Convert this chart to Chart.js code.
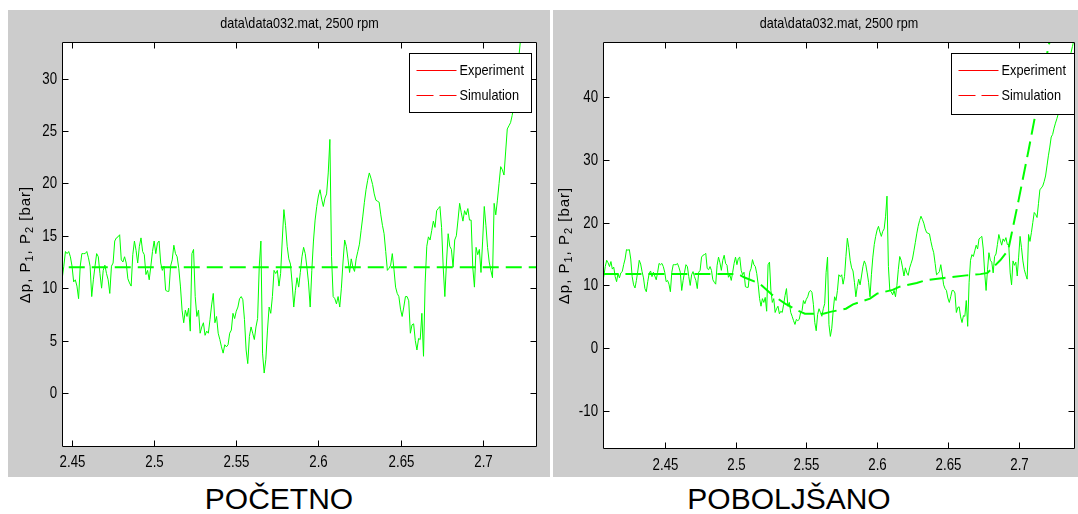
<!DOCTYPE html>
<html>
<head>
<meta charset="utf-8">
<script src="https://cdn.jsdelivr.net/npm/chart.js@4.4.1/dist/chart.umd.min.js"></script>
<style>
  body { margin: 0; background: #fff; width: 1078px; height: 514px; overflow: hidden; position: relative; }
  canvas { position: absolute; }
  #chartLeft { left: 8px; top: 10px; }
  #chartRight { left: 553px; top: 10px; }
  .caption { position: absolute; top: 484px; font-family: 'Liberation Sans', Arial, sans-serif; font-size: 30px; line-height: 30px; text-align: center; color: #000; }
</style>
</head>
<body>
<canvas id="chartLeft" width="542" height="467"></canvas>
<canvas id="chartRight" width="525" height="467"></canvas>
<div class="caption" style="left:8px;width:542px">POČETNO</div>
<div class="caption" style="left:589px;width:400px">POBOLJŠANO</div>
<script>
    const plotTitle = 'data\\data032.mat, 2500 rpm';
    const legendLabels = ['Experiment', 'Simulation'];
    // [text, isSubscript]
    const yLabelParts = [['\u0394p, P', false], ['1', true], [', P', false], ['2', true], [' [bar]', false]];

    const xTickValues = [2.45, 2.5, 2.55, 2.6, 2.65, 2.7];
    const yTicksLeft = [0, 5, 10, 15, 20, 25, 30];
    const yTicksRight = [-10, 0, 10, 20, 30, 40];

    // measured pressure, sampled every 1 ms from 2.406 s
    const expStartTime = 2.406;
    const expSampleStep = 0.001;
    const expPressure = [
        10.3, 11.5, 13.0, 14.0, 13.6, 13.0, 13.8, 12.6, 12.9, 11.4,
        10.6, 11.9, 11.2, 12.0, 12.2, 13.3, 14.2, 15.7, 15.6, 15.7,
        14.2, 11.4, 10.1, 9.6, 10.8, 12.3, 14.0, 13.4, 12.2, 11.2,
        9.5, 9.0, 10.6, 11.9, 12.3, 11.4, 12.1, 11.5,
        10.9, 12.1, 13.5, 13.3, 13.5, 13.0, 12.1, 10.6, 10.8, 10.2,
        9.0, 12.1, 13.3, 13.3, 13.3, 13.5, 12.9, 12.1, 9.2, 10.8,
        12.1, 13.3, 13.0, 11.4, 10.0, 11.7, 12.2, 11.4, 10.8, 9.5,
        12.1, 12.4, 14.5, 14.8, 14.9, 15.1, 12.7, 12.5, 13.0, 12.4,
        10.9, 10.5, 10.2, 13.2, 14.5, 13.6, 12.4, 14.0, 14.8, 13.5,
        13.2, 11.3, 11.7, 10.8, 12.1, 13.5, 14.5, 13.3, 14.3, 14.5,
        12.4, 11.7, 12.1, 9.8, 9.7, 9.7, 12.1, 12.7, 14.1, 13.3,
        13.0, 11.9, 10.2, 7.9, 6.7, 7.9, 7.3, 8.1, 5.9, 13.3,
        13.7, 9.2, 7.3, 7.9, 5.7, 6.3, 6.7, 5.5, 5.9, 5.7,
        7.0, 8.4, 9.5, 6.7, 7.3, 5.7, 5.1, 4.4, 3.8, 4.6,
        4.4, 4.6, 5.7, 6.0, 7.6, 7.1, 7.8, 8.2, 9.0, 9.2,
        8.9, 7.0, 4.1, 2.8, 5.4, 6.3, 5.7, 5.1, 6.3, 7.1,
        12.1, 14.5, 3.8, 1.9, 3.2, 6.0, 8.2, 7.6, 9.2, 11.7,
        11.4, 11.7, 10.2, 11.4, 14.6, 17.5, 16.0, 14.0, 12.8,
        12.3, 10.5, 8.2, 9.8, 11.0, 10.1, 11.5, 13.0, 13.9, 13.3,
        12.0, 10.5, 8.2, 11.7, 14.5, 16.5, 17.8, 18.8, 19.4, 18.5,
        17.8, 18.6, 19.0, 21.0, 24.2, 13.0, 9.2, 9.0, 8.5, 9.2,
        8.2, 10.0, 12.5, 14.6, 14.0, 12.8, 11.5, 12.8, 12.0, 11.6,
        12.8, 13.5, 14.2, 15.5, 16.8, 18.2, 19.4, 20.3, 21.0, 20.5,
        19.9, 19.0, 18.4, 18.3, 18.2, 17.0, 16.0, 15.2, 13.5, 11.7,
        11.9, 12.2, 13.3, 11.8, 10.1, 9.5, 9.2, 8.0, 7.3, 8.2,
        9.2, 9.2, 8.8, 5.7, 6.5, 6.6, 5.0, 4.1, 5.2, 5.1,
        7.6, 3.5, 10.5, 14.0, 14.9, 14.6, 15.5, 16.4, 15.8, 17.4,
        17.6, 17.8, 15.8, 12.0, 9.2, 12.5, 15.2, 14.0, 13.7, 12.0,
        14.6, 15.0, 16.5, 18.1, 17.2, 16.4, 17.4, 17.0, 17.6, 16.5,
        16.5, 12.0, 10.1, 13.9, 13.2, 13.7, 11.5, 14.5, 17.8, 16.0,
        13.9, 12.5, 11.7, 11.0, 18.1, 17.0, 18.4, 20.0, 21.6, 21.3,
        20.8, 23.0, 25.2, 25.5, 25.8, 26.5, 27.4, 29.0, 30.6, 32.0,
        33.6, 34.0, 35.0, 35.8, 36.5, 37.3, 39.0, 40.5, 41.5, 42.5,
        43.5, 44.5, 45.5, 46.0, 47.0, 48.0, 49.0, 50.0
    ];
    const expTime = expPressure.map((_, i) => +(expStartTime + i * expSampleStep).toFixed(3));

    // simulation, first model (constant pressure)
    const simTimeLeft = [2.406, 2.740];
    const simPressureLeft = [12.0, 12.0];

    // simulation, improved model
    const simTimeRight = [2.406, 2.502, 2.506, 2.517, 2.526, 2.535, 2.544, 2.549, 2.562, 2.567,
        2.578, 2.583, 2.595, 2.600, 2.611, 2.616, 2.628, 2.634, 2.647, 2.663,
        2.673, 2.678, 2.687, 2.6926, 2.700, 2.707, 2.7115, 2.721, 2.726];
    const simPressureRight = [11.8, 11.8, 11.3, 10.3, 8.5, 7.1, 6.0, 5.5, 5.5, 5.8,
        6.3, 7.0, 7.9, 8.7, 9.3, 9.8, 10.4, 10.8, 11.2, 11.6,
        11.8, 12.0, 14.0, 15.6, 23.6, 31.5, 36.8, 47.9, 53.0];

    const sansFont = "'Liberation Sans', Arial, sans-serif";
    const lineGreen = '#00ff00';

    // Liberation Sans squeezed sideways, to look like the narrow Helvetica of the original
    function narrowText(ctx, text, x, y, size, squeeze, align) {
        ctx.save();
        ctx.font = size + 'px ' + sansFont;
        ctx.textAlign = align;
        ctx.textBaseline = 'middle';
        ctx.translate(x, y);
        ctx.scale(squeeze, 1);
        ctx.fillText(text, 0, 0);
        ctx.restore();
    }

    const matlabFrame = {
        id: 'matlabFrame',
        beforeDraw(chart) {
            const { ctx, chartArea: a } = chart;
            ctx.save();
            ctx.fillStyle = '#cccccc';
            ctx.fillRect(0, 0, chart.width, chart.height);
            ctx.fillStyle = '#ffffff';
            ctx.fillRect(a.left, a.top, a.right - a.left, a.bottom - a.top);
            ctx.restore();
        },
        afterDraw(chart, args, opts) {
            const { ctx, chartArea: a, scales } = chart;
            const L = Math.round(a.left) + 0.5;
            const R = Math.round(a.right) - 0.5;
            const T = Math.round(a.top) + 0.5;
            const B = Math.round(a.bottom) - 0.5;
            const tick = 6;

            ctx.save();
            ctx.strokeStyle = '#000';
            ctx.fillStyle = '#000';
            ctx.lineWidth = 1;
            ctx.beginPath();
            ctx.rect(L, T, R - L, B - T);
            scales.x.ticks.forEach((t) => {
                const px = Math.round(scales.x.getPixelForValue(t.value)) + 0.5;
                ctx.moveTo(px, B); ctx.lineTo(px, B - tick);
                ctx.moveTo(px, T); ctx.lineTo(px, T + tick);
                narrowText(ctx, String(+t.value.toFixed(2)), px, a.bottom + opts.xLabelGap, 17, 0.78, 'center');
            });
            scales.y.ticks.forEach((t) => {
                const py = Math.round(scales.y.getPixelForValue(t.value)) + 0.5;
                ctx.moveTo(L, py); ctx.lineTo(L + tick, py);
                ctx.moveTo(R, py); ctx.lineTo(R - tick, py);
                narrowText(ctx, String(t.value), a.left - 5, py, 17, 0.78, 'right');
            });
            ctx.stroke();

            narrowText(ctx, opts.title, (a.left + a.right) / 2, 14, 15, 0.84, 'center');

            // y label with subscripts
            ctx.save();
            ctx.translate(opts.yLabelX, (a.top + a.bottom) / 2);
            ctx.rotate(-Math.PI / 2);
            ctx.textAlign = 'left';
            ctx.textBaseline = 'middle';
            if ('letterSpacing' in ctx) ctx.letterSpacing = '1px';
            const fontFor = (sub) => (sub ? '11px ' : '15px ') + sansFont;
            const widths = yLabelParts.map(([text, sub]) => {
                ctx.font = fontFor(sub);
                return ctx.measureText(text).width;
            });
            let x = -widths.reduce((s, w) => s + w, 0) / 2;
            yLabelParts.forEach(([text, sub], i) => {
                ctx.font = fontFor(sub);
                ctx.fillText(text, x, sub ? 4 : 0);
                x += widths[i];
            });
            ctx.restore();

            // legend box
            const lg = opts.legend;
            const bx = Math.round(a.right - lg.right - lg.width) + 0.5;
            const by = Math.round(a.top + lg.top) + 0.5;
            ctx.fillStyle = '#ffffff';
            ctx.fillRect(bx, by, lg.width, lg.height);
            ctx.strokeStyle = '#000';
            ctx.strokeRect(bx, by, lg.width, lg.height);
            legendLabels.forEach((label, i) => {
                const ry = Math.round(by + 16.5 + i * 25) + 0.5;
                ctx.strokeStyle = '#ff0000';
                ctx.setLineDash(i === 1 ? [17, 6] : []);
                ctx.beginPath();
                ctx.moveTo(bx + 7, ry);
                ctx.lineTo(bx + 47, ry);
                ctx.stroke();
                ctx.setLineDash([]);
                ctx.fillStyle = '#000';
                narrowText(ctx, label, bx + 50, ry, 15, 0.85, 'left');
            });
            ctx.restore();
        }
    };

    function buildChart(canvasId, cfg) {
        return new Chart(document.getElementById(canvasId), {
            type: 'line',
            data: {
                datasets: [
                    {
                        label: legendLabels[0],
                        data: expTime.map((t, i) => ({ x: t, y: expPressure[i] })),
                        borderColor: lineGreen,
                        borderWidth: 1,
                        pointRadius: 0,
                        tension: 0,
                        clip: 0
                    },
                    {
                        label: legendLabels[1],
                        data: cfg.simTime.map((t, i) => ({ x: t, y: cfg.simPressure[i] })),
                        borderColor: lineGreen,
                        borderWidth: 2,
                        borderDash: [16, 7],
                        pointRadius: 0,
                        tension: 0,
                        clip: 0
                    }
                ]
            },
            options: {
                responsive: false,
                animation: false,
                devicePixelRatio: 1,
                layout: { padding: { top: 32, right: cfg.padRight, left: 0, bottom: 0 } },
                plugins: {
                    legend: { display: false },
                    tooltip: { enabled: false },
                    matlabFrame: {
                        title: plotTitle,
                        yLabelX: cfg.yLabelX,
                        xLabelGap: cfg.xLabelGap,
                        legend: cfg.legend
                    }
                },
                scales: {
                    x: {
                        type: 'linear',
                        min: cfg.xMin,
                        max: cfg.xMax,
                        afterBuildTicks: (s) => { s.ticks = xTickValues.map((v) => ({ value: v })); },
                        afterFit: (s) => { s.height = cfg.xAxisHeight; },
                        grid: { display: false, drawTicks: false },
                        border: { display: false },
                        ticks: { display: false }
                    },
                    y: {
                        min: cfg.yMin,
                        max: cfg.yMax,
                        afterBuildTicks: (s) => { s.ticks = cfg.yTicks.map((v) => ({ value: v })); },
                        afterFit: (s) => { s.width = cfg.yAxisWidth; },
                        grid: { display: false, drawTicks: false },
                        border: { display: false },
                        ticks: { display: false }
                    }
                }
            },
            plugins: [matlabFrame]
        });
    }

    buildChart('chartLeft', {
        simTime: simTimeLeft,
        simPressure: simPressureLeft,
        xMin: 2.4439, xMax: 2.7331,
        yMin: -5.16, yMax: 33.5,
        yTicks: yTicksLeft,
        padRight: 13, yAxisWidth: 54, xAxisHeight: 30,
        yLabelX: 17.5, xLabelGap: 15,
        legend: { right: 6, top: 11, width: 122, height: 59 }
    });

    buildChart('chartRight', {
        simTime: simTimeRight,
        simPressure: simPressureRight,
        xMin: 2.4064, xMax: 2.7398,
        yMin: -16.0, yMax: 48.7,
        yTicks: yTicksRight,
        padRight: 3, yAxisWidth: 50, xAxisHeight: 28,
        yLabelX: 12, xLabelGap: 16,
        legend: { right: 1, top: 11, width: 123, height: 61 }
    });
</script>
</body>
</html>
